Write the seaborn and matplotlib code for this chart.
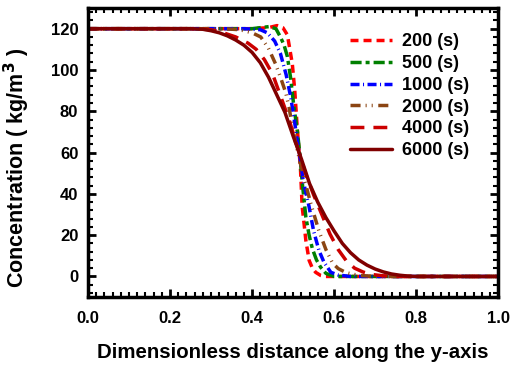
import matplotlib
matplotlib.use("Agg")
import matplotlib.pyplot as plt
from matplotlib.ticker import MultipleLocator, AutoMinorLocator, FormatStrFormatter
import pandas as pd
import seaborn as sns

# Concentration profiles (kg/m^3) along the dimensionless y-axis at several times
x_200 = [0.0, 0.40, 0.44, 0.461, 0.475, 0.486, 0.492, 0.498, 0.504, 0.510, 0.514,
         0.518, 0.522, 0.527, 0.531, 0.539, 0.547, 0.555, 0.567, 0.579, 0.60, 0.70, 1.0]
c_200 = [120, 120, 120.5, 121.5, 120.5, 117, 110, 103, 90, 72, 62,
         52, 34, 25, 17.5, 7.8, 4, 2, 0.5, 0, 0, 0, 0]

x_500 = [0.0, 0.40, 0.441, 0.458, 0.469, 0.478, 0.486, 0.494, 0.502, 0.510, 0.516,
         0.522, 0.531, 0.539, 0.547, 0.557, 0.567, 0.58, 0.60, 1.0]
c_500 = [120, 120, 121, 120, 116, 112, 106.5, 96, 82, 71, 60,
         46, 28.8, 20, 13.4, 8, 4.5, 1.5, 0, 0]

x_1000 = [0.0, 0.38, 0.42, 0.437, 0.455, 0.469, 0.483, 0.494, 0.502, 0.510, 0.518,
          0.525, 0.539, 0.55, 0.563, 0.575, 0.592, 0.61, 0.64, 1.0]
c_1000 = [120, 120, 119.5, 118, 114, 108, 97.7, 87, 77, 66, 56,
          46, 33.7, 22, 12.6, 7, 2, 0.7, 0, 0]

x_2000 = [0.0, 0.33, 0.37, 0.40, 0.421, 0.44, 0.457, 0.47, 0.482, 0.49, 0.498,
          0.506, 0.514, 0.526, 0.545, 0.563, 0.58, 0.596, 0.61, 0.63, 0.66, 0.70, 1.0]
c_2000 = [120, 120, 119.5, 118, 116, 110.5, 103, 96, 89, 82, 72.5,
          65, 58, 48, 34, 22, 13, 6.5, 3.8, 1.8, 0.5, 0, 0]

x_4000 = [0.0, 0.26, 0.30, 0.33, 0.36, 0.39, 0.41, 0.43, 0.45, 0.47, 0.49, 0.51,
          0.53, 0.55, 0.57, 0.59, 0.61, 0.63, 0.65, 0.67, 0.69, 0.72, 0.75, 1.0]
c_4000 = [120, 120, 119.5, 118, 116, 113, 110, 105, 98, 87, 76, 63,
          50, 39.5, 30, 20.5, 13, 7.5, 4, 2.2, 1, 0.3, 0, 0]

x_6000 = [0.0, 0.25, 0.28, 0.30, 0.32, 0.34, 0.36, 0.38, 0.40, 0.42, 0.44, 0.46,
          0.48, 0.50, 0.52, 0.54, 0.56, 0.58, 0.60, 0.62, 0.64, 0.66, 0.68, 0.70,
          0.72, 0.74, 0.76, 0.78, 0.80, 1.0]
c_6000 = [120, 120, 119.7, 119, 118, 116.5, 114.5, 112, 108.5, 103.5, 96.5, 88,
          79.5, 68, 57, 45, 36, 28.5, 22, 16, 11.5, 8, 5.5, 3.6,
          2.2, 1.2, 0.6, 0.2, 0, 0]

labels = ["200 (s)", "500 (s)", "1000 (s)", "2000 (s)", "4000 (s)", "6000 (s)"]
xs = [x_200, x_500, x_1000, x_2000, x_4000, x_6000]
cs = [c_200, c_500, c_1000, c_2000, c_4000, c_6000]

frames = [pd.DataFrame({"y": x, "C": c, "t": lab}) for x, c, lab in zip(xs, cs, labels)]
df = pd.concat(frames, ignore_index=True)

palette = {
    "200 (s)": "#ff0000",
    "500 (s)": "#008000",
    "1000 (s)": "#0000ff",
    "2000 (s)": "#8b4513",
    "4000 (s)": "#cc0000",
    "6000 (s)": "#800000",
}
dashes = {
    "200 (s)": (2.3, 1.45),
    "500 (s)": (3.2, 1.15, 1.15, 1.15),
    "1000 (s)": (2.6, 1.0, 0.3, 1.0),
    "2000 (s)": (2.9, 1.45, 0.3, 1.45, 0.3, 1.6),
    "4000 (s)": (4.0, 2.6),
    "6000 (s)": "",
}

sns.set_theme(style="ticks")
plt.rcParams["font.family"] = ["Liberation Sans", "DejaVu Sans"]
plt.rcParams["font.weight"] = "bold"
plt.rcParams["text.color"] = "black"
plt.rcParams["axes.labelcolor"] = "black"
plt.rcParams["xtick.color"] = "black"
plt.rcParams["ytick.color"] = "black"

fig = plt.figure(figsize=(5.12, 3.65), dpi=100)
ax = fig.add_axes([0.172, 0.186, 0.801, 0.792])

sns.lineplot(data=df, x="y", y="C", hue="t", style="t", palette=palette,
             dashes=dashes, hue_order=labels, style_order=labels,
             linewidth=2.5, sort=False, ax=ax)
for line in ax.get_lines():
    line.set_dash_capstyle("butt")

ax.set_xlim(0, 1.0)
ax.set_ylim(-10, 130)
ax.xaxis.set_major_locator(MultipleLocator(0.2))
ax.xaxis.set_minor_locator(AutoMinorLocator(10))
ax.set_yticks([0, 20, 40, 60, 80, 100, 120])
ax.yaxis.set_minor_locator(AutoMinorLocator(5))
ax.xaxis.set_major_formatter(FormatStrFormatter("%.1f"))

ax.tick_params(which="both", direction="in", top=True, right=True, colors="black")
ax.tick_params(which="major", length=6, width=2)
ax.tick_params(which="minor", length=3.5, width=1.5)
ax.tick_params(axis="x", labelsize=12, pad=10)
ax.tick_params(axis="y", labelsize=12, pad=7)
for lab in ax.get_xticklabels() + ax.get_yticklabels():
    lab.set_fontweight("bold")
for sp in ax.spines.values():
    sp.set_linewidth(2.5)
    sp.set_color("black")

ax.set_xlabel("Dimensionless distance along the y-axis", fontsize=14.7,
              fontweight="bold", labelpad=12)
ax.set_ylabel("Concentration ( kg/m$^{3}$ )", fontsize=15.5, fontweight="bold")
ax.yaxis.set_label_coords(-0.137, 0.446)

handles, labs = ax.get_legend_handles_labels()
ax.legend(handles, labs, loc="upper left", bbox_to_anchor=(0.639, 0.912),
          frameon=False, borderaxespad=0, borderpad=0, handlelength=2.33,
          handletextpad=0.55, labelspacing=0.26,
          prop={"weight": "bold", "size": 13})

fig.savefig("out.png", dpi=100)
